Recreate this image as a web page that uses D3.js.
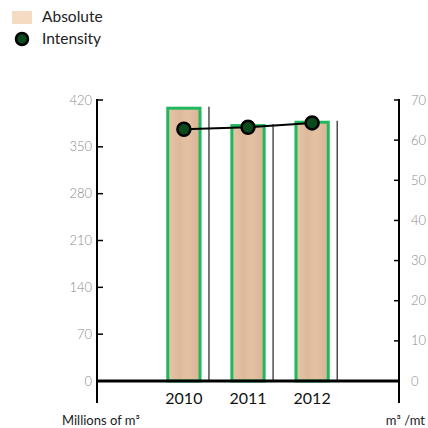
<!DOCTYPE html>
<html>
<head>
<meta charset="utf-8">
<script src="https://cdn.jsdelivr.net/npm/d3@7"></script>
<style>
  html, body { margin: 0; padding: 0; background: #fff; }
  svg { display: block; font-family: Lato, "Open Sans", sans-serif; }
</style>
</head>
<body>
<svg id="chart" width="428" height="428"></svg>
<script>
// Water use: absolute volume (bars, left axis) and intensity (line, right axis)
const years = ["2010", "2011", "2012"];
const absolute = [410, 384, 389];        // millions of m³
const intensity = [62.7, 63.2, 64.3];    // m³ / mt
const leftTicks = [0, 70, 140, 210, 280, 350, 420];
const rightTicks = [0, 10, 20, 30, 40, 50, 60, 70];

const svg = d3.select("#chart");
const plotLeft = 97, plotRight = 399, plotTop = 100, base = 381, axisBottom = 403;

const x = d3.scaleBand().domain(years).range([plotLeft, plotRight])
  .paddingInner(0.45).paddingOuter(1.08);
const yL = d3.scaleLinear().domain([0, 420]).range([base, plotTop]);
const yR = d3.scaleLinear().domain([0, 70]).range([base, plotTop]);

// wood-like fill for the bars
const defs = svg.append("defs");
const grad = defs.append("linearGradient").attr("id", "wood")
  .attr("x1", "0").attr("x2", "1").attr("y1", "0").attr("y2", "0");
[["0%", "#e6c7a8"], ["35%", "#ddb99a"], ["60%", "#e3c2a3"], ["100%", "#d9b497"]]
  .forEach(([o, c]) => grad.append("stop").attr("offset", o).attr("stop-color", c));

// thin shadow lines to the right of each bar
svg.append("g").selectAll("rect").data(years).join("rect")
  .attr("x", d => x(d) + x.bandwidth() + 6.8)
  .attr("y", (d, i) => yL(absolute[i]))
  .attr("width", 1.3)
  .attr("height", (d, i) => base - yL(absolute[i]))
  .attr("fill", "#333");

// bars
svg.append("g").selectAll("rect").data(years).join("rect")
  .attr("x", d => x(d) + 1.5)
  .attr("y", (d, i) => yL(absolute[i]) + 1.5)
  .attr("width", x.bandwidth() - 3)
  .attr("height", (d, i) => base - yL(absolute[i]) - 1.5)
  .attr("fill", "url(#wood)")
  .attr("stroke", "#1fb85c").attr("stroke-width", 3);

// left axis labels
svg.append("g").selectAll("text").data(leftTicks).join("text")
  .attr("x", plotLeft - 5).attr("y", d => yL(d)).attr("dy", "0.35em")
  .attr("text-anchor", "end").attr("fill", "#8a8a8a").attr("font-size", 13)
  .attr("font-weight", 300).text(d => d);

// right axis labels
svg.append("g").selectAll("text").data(rightTicks).join("text")
  .attr("x", plotRight + 12).attr("y", d => yR(d)).attr("dy", "0.35em")
  .attr("text-anchor", "start").attr("fill", "#8a8a8a").attr("font-size", 13)
  .attr("font-weight", 300).text(d => d);

// year labels
svg.append("g").selectAll("text").data(years).join("text")
  .attr("x", d => x(d) + x.bandwidth() / 2)
  .attr("y", 404)
  .attr("text-anchor", "middle")
  .attr("font-size", 16).attr("fill", "#111")
  .text(d => d);

// intensity line and points
const intensityLine = d3.line()
  .x((d, i) => x(years[i]) + x.bandwidth() / 2)
  .y(d => yR(d));
svg.append("path").datum(intensity).attr("d", intensityLine)
  .attr("fill", "none").attr("stroke", "#000").attr("stroke-width", 2);
svg.append("g").selectAll("circle").data(intensity).join("circle")
  .attr("cx", (d, i) => x(years[i]) + x.bandwidth() / 2)
  .attr("cy", d => yR(d))
  .attr("r", 6.5)
  .attr("fill", "#0b4a1d").attr("stroke", "#000").attr("stroke-width", 2.5);

// axis titles
svg.append("text").attr("x", 62).attr("y", 425).attr("font-size", 13).attr("fill", "#222")
  .text("Millions of m³");
svg.append("text").attr("x", 425).attr("y", 425).attr("text-anchor", "end")
  .attr("font-size", 13).attr("fill", "#222").text("m³ /mt");

// legend
const legend = svg.append("g");
legend.append("rect").attr("x", 12).attr("y", 11).attr("width", 20).attr("height", 13)
  .attr("fill", "#f4dbc2");
legend.append("text").attr("x", 42).attr("y", 22).attr("font-size", 15.5).attr("fill", "#222")
  .text("Absolute");
legend.append("circle").attr("cx", 22).attr("cy", 39).attr("r", 6)
  .attr("fill", "#0b4a1d").attr("stroke", "#000").attr("stroke-width", 2.5);
legend.append("text").attr("x", 42).attr("y", 44).attr("font-size", 15.5).attr("fill", "#222")
  .text("Intensity");

// axes drawn last: spines, ticks and baseline
const axes = svg.append("g");
axes.append("line").attr("x1", plotLeft).attr("x2", plotLeft)
  .attr("y1", plotTop - 1).attr("y2", axisBottom).attr("stroke", "#000").attr("stroke-width", 2);
axes.append("line").attr("x1", plotRight).attr("x2", plotRight)
  .attr("y1", plotTop - 1).attr("y2", axisBottom).attr("stroke", "#000").attr("stroke-width", 2);
axes.selectAll(".lt").data(leftTicks).join("line").attr("class", "lt")
  .attr("x1", plotLeft).attr("x2", plotLeft + 6).attr("y1", d => yL(d)).attr("y2", d => yL(d))
  .attr("stroke", "#000").attr("stroke-width", 1.5);
axes.selectAll(".rt").data(rightTicks).join("line").attr("class", "rt")
  .attr("x1", plotRight - 5).attr("x2", plotRight).attr("y1", d => yR(d)).attr("y2", d => yR(d))
  .attr("stroke", "#000").attr("stroke-width", 1.5);
axes.append("line").attr("x1", plotLeft).attr("x2", plotRight)
  .attr("y1", base).attr("y2", base).attr("stroke", "#000").attr("stroke-width", 3);
</script>
</body>
</html>
